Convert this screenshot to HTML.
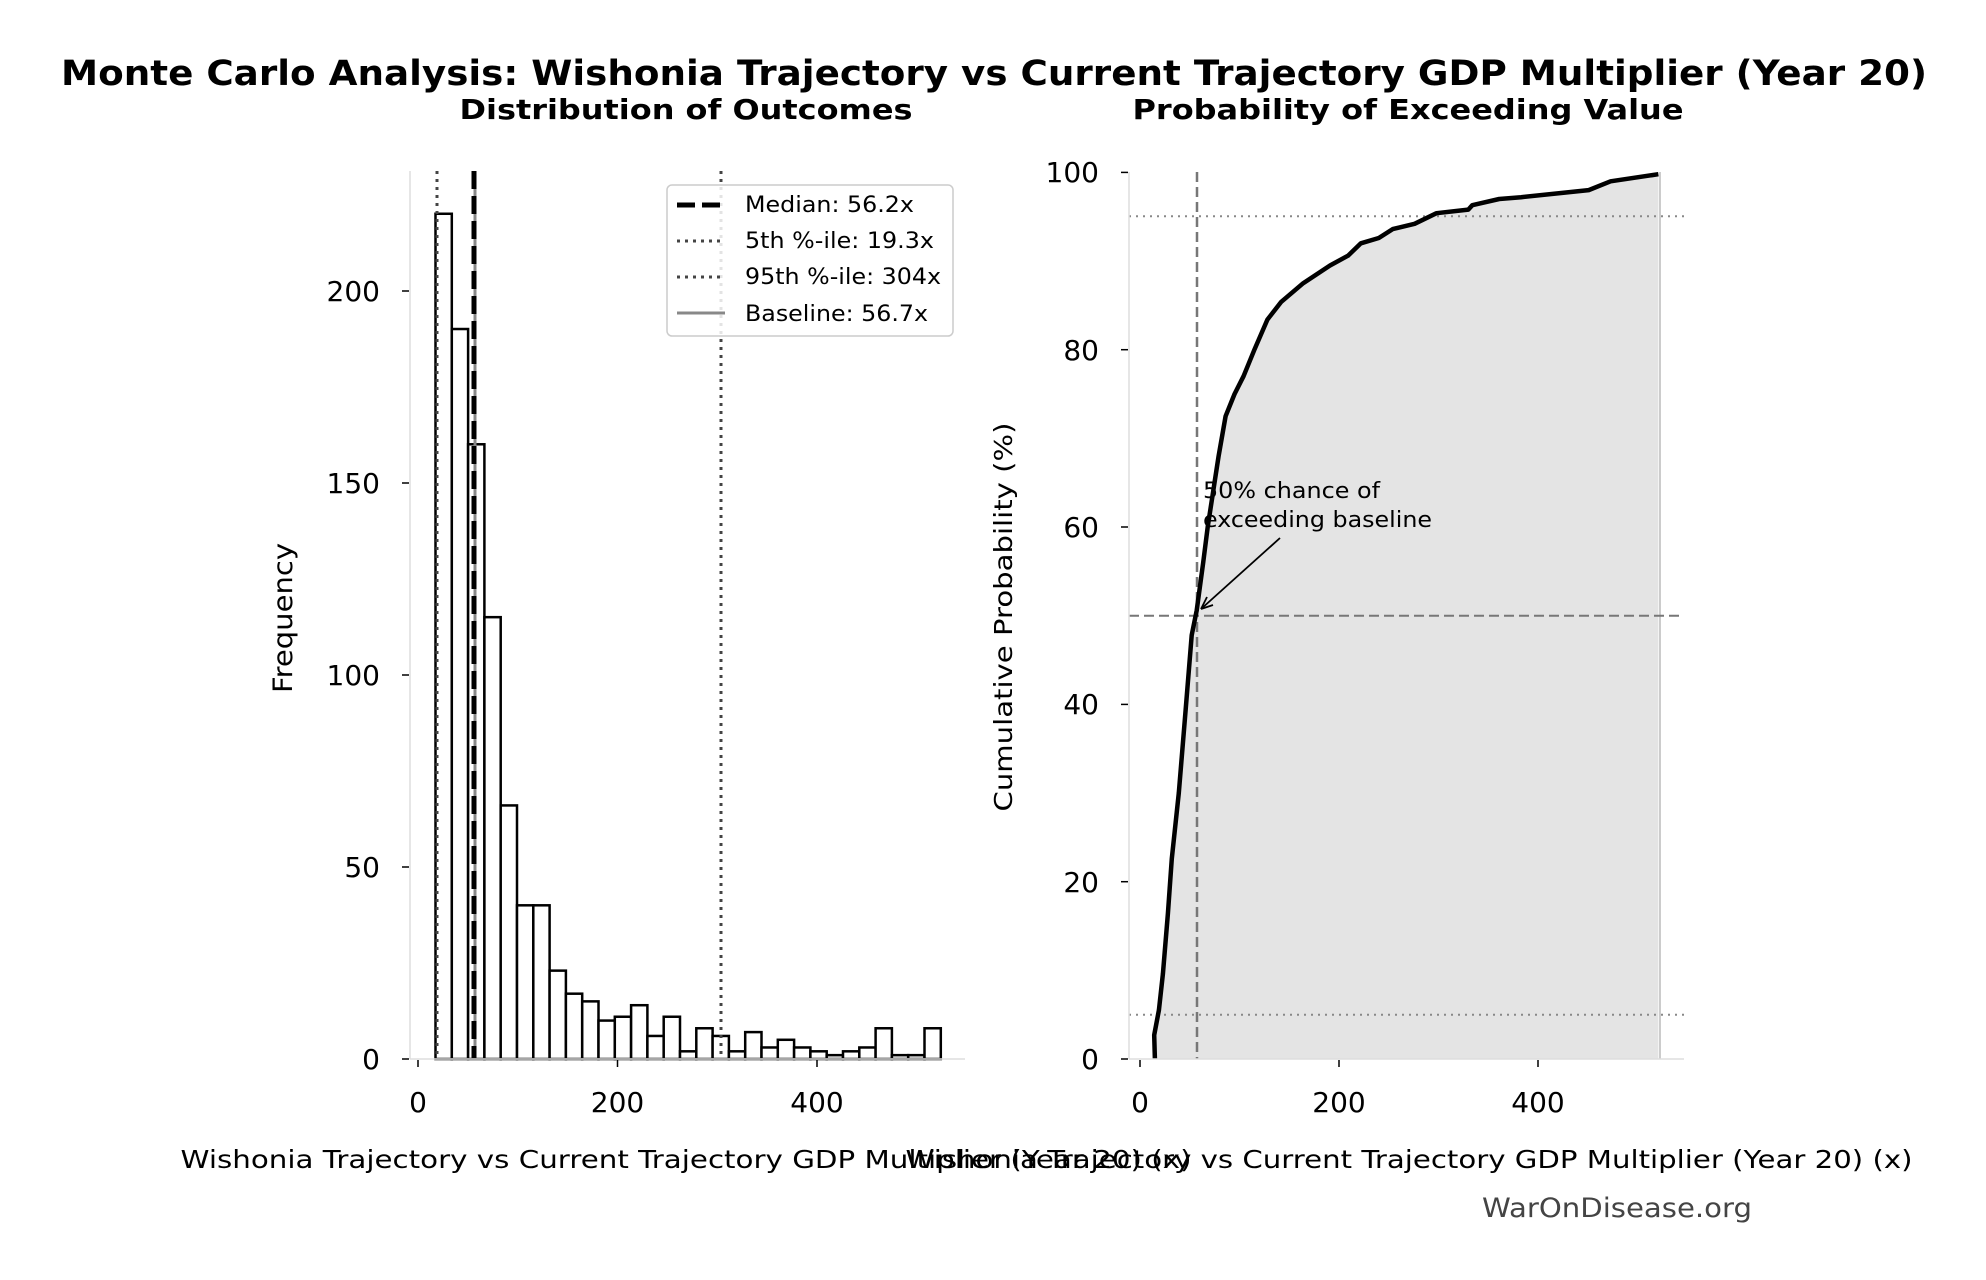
<!DOCTYPE html>
<html><head><meta charset="utf-8"><style>
html,body{margin:0;padding:0;background:#fff;}
svg{display:block;font-family:"DejaVu Sans","Liberation Sans",sans-serif;}
</style></head><body>
<svg width="1986" height="1280" viewBox="0 0 1986 1280" xmlns="http://www.w3.org/2000/svg">
<rect width="1986" height="1280" fill="#fff"/>
<text x="994" y="85" text-anchor="middle" font-size="35" font-weight="bold" textLength="1866" lengthAdjust="spacingAndGlyphs">Monte Carlo Analysis: Wishonia Trajectory vs Current Trajectory GDP Multiplier (Year 20)</text>
<text x="686" y="119" text-anchor="middle" font-size="28" font-weight="bold" textLength="453" lengthAdjust="spacingAndGlyphs">Distribution of Outcomes</text>
<text x="1408" y="119" text-anchor="middle" font-size="28" font-weight="bold" textLength="551" lengthAdjust="spacingAndGlyphs">Probability of Exceeding Value</text>

<!-- LEFT AXES -->
<g id="hist" fill="#fff" stroke="#000" stroke-width="2.5"></g>
<line x1="437" y1="171" x2="437" y2="1059" stroke="#444" stroke-width="3" stroke-dasharray="3,5"/>
<line x1="721" y1="171" x2="721" y2="1059" stroke="#444" stroke-width="3" stroke-dasharray="3,5"/>
<line x1="475" y1="171" x2="475" y2="1059" stroke="#888" stroke-width="3"/>
<line x1="474" y1="171" x2="474" y2="1059" stroke="#000" stroke-width="5" stroke-dasharray="18,7"/>
<line x1="410" y1="171" x2="410" y2="1059" stroke="#ddd" stroke-width="1.5"/>
<line x1="410" y1="1059" x2="965" y2="1059" stroke="#ddd" stroke-width="1.5"/>
<g stroke="#000" stroke-width="1.5">
<line x1="402" y1="1059" x2="409" y2="1059"/><line x1="402" y1="867" x2="409" y2="867"/><line x1="402" y1="675" x2="409" y2="675"/><line x1="402" y1="483" x2="409" y2="483"/><line x1="402" y1="291" x2="409" y2="291"/>
<line x1="418" y1="1060" x2="418" y2="1067"/><line x1="617.5" y1="1060" x2="617.5" y2="1067"/><line x1="817" y1="1060" x2="817" y2="1067"/>
</g>
<g font-size="28" text-anchor="end">
<text x="380" y="1069">0</text><text x="380" y="877">50</text><text x="380" y="685">100</text><text x="380" y="493">150</text><text x="380" y="301">200</text>
</g>
<g font-size="28" text-anchor="middle">
<text x="418" y="1112">0</text><text x="617.5" y="1112">200</text><text x="817" y="1112">400</text>
</g>
<text transform="translate(292,618) rotate(-90)" text-anchor="middle" font-size="27" textLength="150" lengthAdjust="spacingAndGlyphs">Frequency</text>
<text x="686" y="1168" text-anchor="middle" font-size="25" textLength="1011" lengthAdjust="spacingAndGlyphs">Wishonia Trajectory vs Current Trajectory GDP Multiplier (Year 20) (x)</text>

<!-- legend -->
<rect x="667" y="185" width="286" height="151" rx="5" fill="#fff" fill-opacity="0.85" stroke="#ccc" stroke-width="1.5"/>
<line x1="677" y1="205" x2="725" y2="205" stroke="#000" stroke-width="5" stroke-dasharray="18,7"/>
<line x1="677" y1="241" x2="725" y2="241" stroke="#444" stroke-width="3" stroke-dasharray="3,5"/>
<line x1="677" y1="277" x2="725" y2="277" stroke="#444" stroke-width="3" stroke-dasharray="3,5"/>
<line x1="677" y1="313" x2="725" y2="313" stroke="#888" stroke-width="3"/>
<g font-size="22">
<text x="745" y="212" textLength="169" lengthAdjust="spacingAndGlyphs">Median: 56.2x</text>
<text x="745" y="248" textLength="189" lengthAdjust="spacingAndGlyphs">5th %-ile: 19.3x</text>
<text x="745" y="284" textLength="196" lengthAdjust="spacingAndGlyphs">95th %-ile: 304x</text>
<text x="745" y="321" textLength="183" lengthAdjust="spacingAndGlyphs">Baseline: 56.7x</text>
</g>

<!-- RIGHT AXES -->
<path id="fill" fill="#e4e4e4" stroke="none"/>
<line x1="1660" y1="172" x2="1660" y2="1059" stroke="#ccc" stroke-width="2"/>
<line x1="1129" y1="1014.7" x2="1684" y2="1014.7" stroke="#888" stroke-width="2" stroke-dasharray="2,5"/>
<line x1="1129" y1="216.3" x2="1684" y2="216.3" stroke="#888" stroke-width="2" stroke-dasharray="2,5"/>
<line x1="1129" y1="615.7" x2="1684" y2="615.7" stroke="#777" stroke-width="2" stroke-dasharray="10,5"/>
<line x1="1197" y1="172" x2="1197" y2="1059" stroke="#777" stroke-width="2.5" stroke-dasharray="10,5"/>
<path id="cdf" fill="none" stroke="#000" stroke-width="4.5" stroke-linejoin="round"/>
<line x1="1129" y1="172" x2="1129" y2="1059" stroke="#ddd" stroke-width="1.5"/>
<line x1="1129" y1="1059" x2="1684" y2="1059" stroke="#ddd" stroke-width="1.5"/>
<g stroke="#000" stroke-width="1.5">
<line x1="1121" y1="1059" x2="1128" y2="1059"/><line x1="1121" y1="881.7" x2="1128" y2="881.7"/><line x1="1121" y1="704.4" x2="1128" y2="704.4"/><line x1="1121" y1="527" x2="1128" y2="527"/><line x1="1121" y1="349.7" x2="1128" y2="349.7"/><line x1="1121" y1="172.4" x2="1128" y2="172.4"/>
<line x1="1140" y1="1060" x2="1140" y2="1067"/><line x1="1339" y1="1060" x2="1339" y2="1067"/><line x1="1538" y1="1060" x2="1538" y2="1067"/>
</g>
<g font-size="28" text-anchor="end">
<text x="1099" y="1069">0</text><text x="1099" y="892">20</text><text x="1099" y="714">40</text><text x="1099" y="537">60</text><text x="1099" y="360">80</text><text x="1099" y="182">100</text>
</g>
<g font-size="28" text-anchor="middle">
<text x="1140" y="1112">0</text><text x="1339" y="1112">200</text><text x="1538" y="1112">400</text>
</g>
<text transform="translate(1012,617) rotate(-90)" text-anchor="middle" font-size="25" textLength="389" lengthAdjust="spacingAndGlyphs">Cumulative Probability (%)</text>
<text x="1409" y="1168" text-anchor="middle" font-size="25" textLength="1007" lengthAdjust="spacingAndGlyphs">Wishonia Trajectory vs Current Trajectory GDP Multiplier (Year 20) (x)</text>

<text x="1203" y="498" font-size="22" textLength="177" lengthAdjust="spacingAndGlyphs">50% chance of</text>
<text x="1203" y="527" font-size="22" textLength="229" lengthAdjust="spacingAndGlyphs">exceeding baseline</text>
<line x1="1280" y1="538" x2="1201" y2="609" stroke="#000" stroke-width="1.8"/>
<path d="M1201 609 L1207 597 M1201 609 L1213 605" stroke="#000" stroke-width="1.8" fill="none"/>

<text x="1617" y="1217" text-anchor="middle" font-size="27" fill="#444" textLength="270" lengthAdjust="spacingAndGlyphs">WarOnDisease.org</text>

<script>
(function(){
var h=[220,190,160,115,66,40,40,23,17,15,10,11,14,6,11,2,8,6,2,7,3,5,3,2,1,2,3,8,1,1,8];
var g=document.getElementById('hist'),ns='http://www.w3.org/2000/svg';
var x0=435.5,w=16.3,u=3.842,b=1059;
h.forEach(function(v,i){var r=document.createElementNS(ns,'rect');r.setAttribute('x',x0+i*w);r.setAttribute('y',b-v*u);r.setAttribute('width',w);r.setAttribute('height',v*u);g.appendChild(r);});
var p=[[15,0],[14.3,2.7],[19,5.5],[23,9.6],[28,16.4],[32,22.6],[39,30],[46,39.6],[52,47.8],[57,50.6],[63.5,56],[68,60],[79,68],[86,72.5],[95,75],[104,77],[115,80],[128,83.4],[142,85.4],[164,87.5],[191,89.5],[209,90.6],[222,92],[240,92.6],[254,93.6],[276,94.2],[298,95.4],[330,95.8],[334,96.3],[361,97],[383,97.2],[451,98],[473,99],[521,99.8]];
function X(v){return 1140+v*0.995;}function Y(v){return 1059-v*8.866;}
var d=p.map(function(q,i){return (i?'L':'M')+X(q[0]).toFixed(1)+' '+Y(q[1]).toFixed(1);}).join(' ');
document.getElementById('cdf').setAttribute('d',d);
document.getElementById('fill').setAttribute('d',d+' L'+X(521)+' 1059 L'+X(15)+' 1059 Z');
})();
</script>
</svg>
</body></html>
